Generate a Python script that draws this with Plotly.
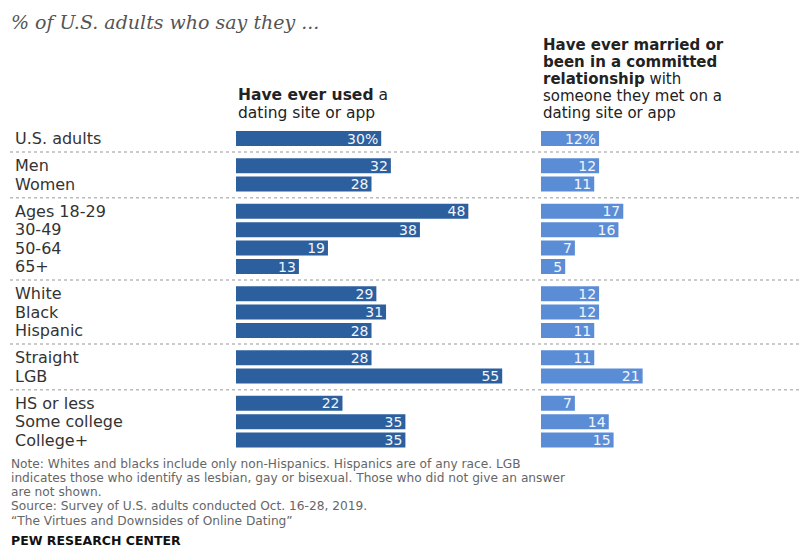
import plotly.graph_objects as go

# ---- data ----
groups = [
    ["U.S. adults"],
    ["Men", "Women"],
    ["Ages 18-29", "30-49", "50-64", "65+"],
    ["White", "Black", "Hispanic"],
    ["Straight", "LGB"],
    ["HS or less", "Some college", "College+"],
]
used_app = [30, 32, 28, 48, 38, 19, 13, 29, 31, 28, 28, 55, 22, 35, 35]
married_met = [12, 12, 11, 17, 16, 7, 5, 12, 12, 11, 11, 21, 7, 14, 15]

title_text = "% of U.S. adults who say they ..."
left_header = ["<b>Have ever used</b> a", "dating site or app"]
right_header = ["<b>Have ever married or</b>", "<b>been in a committed</b>",
                "<b>relationship</b> with", "someone they met on a", "dating site or app"]
notes = [
    "Note: Whites and blacks include only non-Hispanics. Hispanics are of any race. LGB",
    "indicates those who identify as lesbian, gay or bisexual. Those who did not give an answer",
    "are not shown.",
    "Source: Survey of U.S. adults conducted Oct. 16-28, 2019.",
    "\u201cThe Virtues and Downsides of Online Dating\u201d",
]
footer = "PEW RESEARCH CENTER"

# ---- layout helpers (page pixels; body margin removed via post_script) ----
W, H = 800, 547


def px(p):
    return p / W


def py(p):
    return 1 - p / H


ROW0, STEP, GAP = 138.5, 18.4, 8.8
labels, ypos, seps = [], [], []
i = 0
for g, grp in enumerate(groups):
    for lab in grp:
        labels.append(lab)
        ypos.append(ROW0 + STEP * i + GAP * g)
        i += 1
for g in range(len(groups) - 1):
    last = sum(len(x) for x in groups[: g + 1]) - 1
    seps.append((ypos[last] + ypos[last + 1]) / 2)

PXU = 4.84  # pixels per percentage point
L0, R0 = 236, 541
LMAX, RMAX = 60, 50

dark = "#2C5F9E"
light = "#5B8DD6"
FONT = "DejaVu Sans"

left_text = [f"{v}%" if k == 0 else str(v) for k, v in enumerate(used_app)]
right_text = [f"{v}%" if k == 0 else str(v) for k, v in enumerate(married_met)]

fig = go.Figure()
for vals, txt, col, xa in [(used_app, left_text, dark, "x"), (married_met, right_text, light, "x2")]:
    fig.add_trace(go.Bar(
        x=vals, y=ypos, orientation="h", width=15,
        marker=dict(color=col, line=dict(width=0)),
        text=txt, textposition="inside", insidetextanchor="end",
        constraintext="none", textangle=0,
        textfont=dict(family=FONT, size=14, color="#F2F5FA"),
        xaxis=xa, yaxis="y", hoverinfo="skip",
    ))

ann = []
for lab, y in zip(labels, ypos):
    ann.append(dict(x=px(13), y=py(y), xref="paper", yref="paper", text=lab, showarrow=False,
                    xanchor="left", yanchor="middle",
                    font=dict(family=FONT, size=16, color="#333333")))

ann.append(dict(x=px(9), y=py(22), xref="paper", yref="paper", text=title_text, showarrow=False,
                xanchor="left", yanchor="middle",
                font=dict(family="DejaVu Serif", size=19, color="#555555", style="italic")))

for k, t in enumerate(left_header):
    ann.append(dict(x=px(L0), y=py(95 + 18 * k), xref="paper", yref="paper", text=t, showarrow=False,
                    xanchor="left", yanchor="middle",
                    font=dict(family=FONT, size=15.5, color="#222222")))
for k, t in enumerate(right_header):
    ann.append(dict(x=px(R0), y=py(45 + 17 * k), xref="paper", yref="paper", text=t, showarrow=False,
                    xanchor="left", yanchor="middle",
                    font=dict(family=FONT, size=15, color="#222222")))

for k, t in enumerate(notes):
    ann.append(dict(x=px(9), y=py(463.5 + 14.3 * k), xref="paper", yref="paper", text=t, showarrow=False,
                    xanchor="left", yanchor="middle",
                    font=dict(family=FONT, size=12.2, color="#666666")))
ann.append(dict(x=px(9), y=py(540), xref="paper", yref="paper", text="<b>" + footer + "</b>",
                showarrow=False, xanchor="left", yanchor="middle",
                font=dict(family=FONT, size=12.5, color="#111111")))

shapes = []
for s in seps:
    shapes.append(dict(type="line", xref="paper", yref="paper", x0=px(10), x1=1.0, y0=py(s), y1=py(s),
                       line=dict(color="#BBBBBB", width=1.5, dash="dot")))

fig.update_layout(
    width=W, height=H,
    margin=dict(l=0, r=0, t=0, b=0),
    paper_bgcolor="white", plot_bgcolor="white",
    showlegend=False, barmode="overlay",
    xaxis=dict(domain=[px(L0), px(L0 + LMAX * PXU)], range=[0, LMAX], visible=False, fixedrange=True),
    xaxis2=dict(domain=[px(R0), px(R0 + RMAX * PXU)], range=[0, RMAX], visible=False, fixedrange=True),
    yaxis=dict(domain=[0, 1], range=[H, 0], visible=False, fixedrange=True),
    annotations=ann, shapes=shapes,
)

fig.write_html("out.html", config={"displayModeBar": False},
               post_script="document.body.style.margin='0';document.body.style.overflow='hidden';")
